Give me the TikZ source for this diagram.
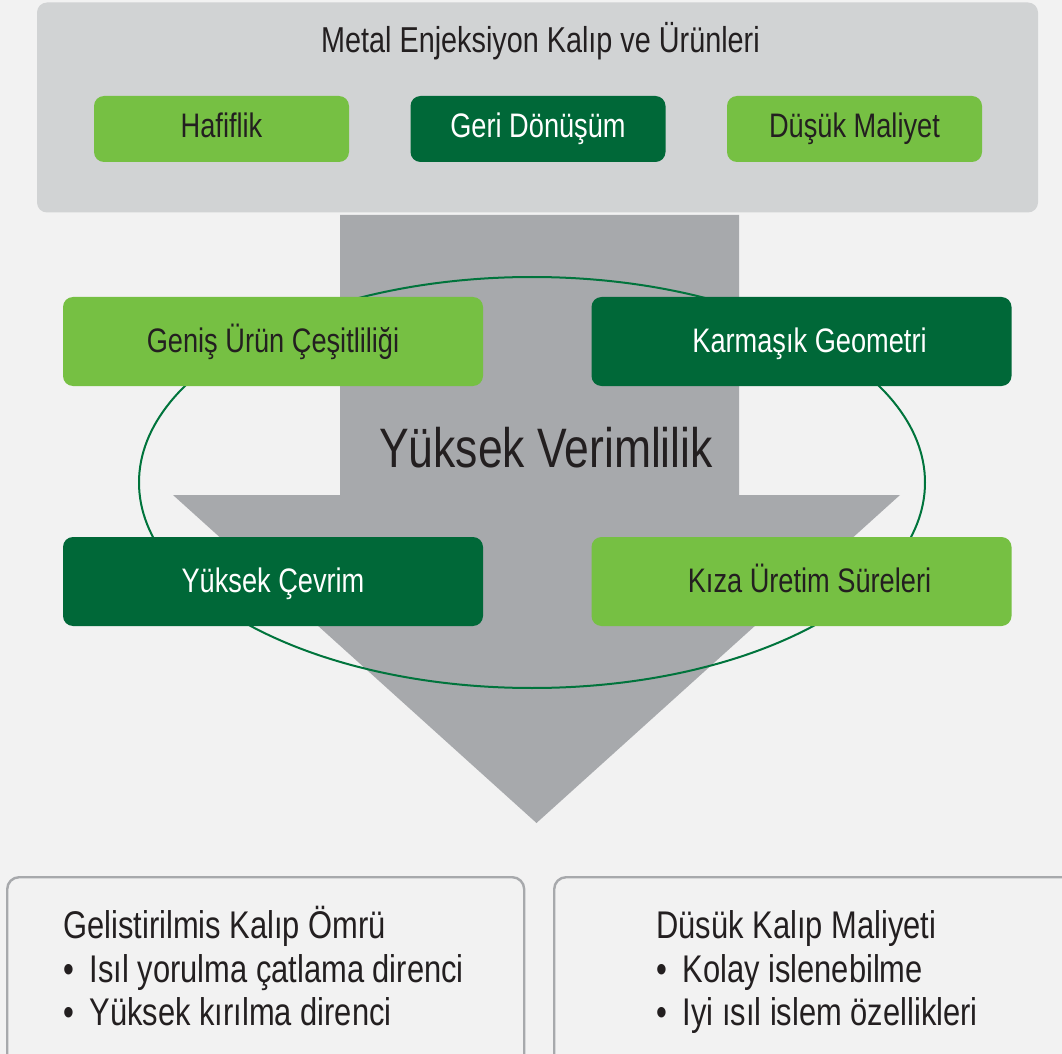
\documentclass[tikz,border=0pt]{standalone}
\usepackage{fontspec}
\setmainfont[FakeStretch=0.8]{Liberation Sans}
\usepackage{xcolor}

\definecolor{bggray}{HTML}{F2F2F2}
\definecolor{panelgray}{HTML}{D1D3D4}
\definecolor{arrowgray}{HTML}{A7A9AC}
\definecolor{leafgreen}{HTML}{76C043}
\definecolor{forestgreen}{HTML}{006838}
\definecolor{ringgreen}{HTML}{00743C}
\definecolor{inkdark}{HTML}{231F20}

\newcommand{\dotitem}{•\hspace{0.4em}}

\begin{document}
\begin{tikzpicture}[x=0.5pt, y=-0.5pt,
  box/.style={rounded corners=5pt, minimum width=127.5pt, minimum height=33pt,
    inner sep=0pt, text height=12pt, text depth=3pt, font=\fontsize{17}{20}\selectfont},
  widebox/.style={box, minimum width=210pt, minimum height=44.5pt, text depth=1pt},
  lightbox/.style={fill=leafgreen, text=inkdark},
  darkbox/.style={fill=forestgreen, text=white},
  infobox/.style={draw=arrowgray, line width=1.2pt, rounded corners=6pt, fill=bggray,
    minimum height=100pt, anchor=north west},
  itemtext/.style={anchor=base west, inner sep=0pt, text=inkdark,
    font=\fontsize{19.3}{22}\selectfont}]

\fill[bggray] (0,0) rectangle (1062,1054);
\useasboundingbox (0,0) rectangle (1062,1054);
\clip (0,0) rectangle (1062,1054);

% top panel
\node[fill=panelgray, rounded corners=5pt, minimum width=500.5pt, minimum height=105pt] (panel) at (537.5,107.5) {};
\node[anchor=base, text=inkdark, font=\fontsize{18}{21}\selectfont] (title) at (540.5,53) {Metal Enjeksiyon Kalıp ve Ürünleri};

\node[box, lightbox] (h1) at (221.5,129) {Hafiflik};
\node[box, darkbox] (h2) at (538,129) {Geri Dönüşüm};
\node[box, lightbox] (h3) at (854.5,129) {Düşük Maliyet};

% big arrow and ring
\fill[arrowgray] (340,215) -- (739,215) -- (739,495) -- (900,495) -- (536.5,823)
  -- (173,495) -- (340,495) -- cycle;
\draw[ringgreen, line width=1pt] (532,482.5) ellipse [x radius=196.5pt, y radius=102.75pt];

\node[widebox, lightbox] (m1) at (273,341.5) {Geniş Ürün Çeşitliliği};
\node[widebox, darkbox] (m2) at (801.5,341.5) {\hspace{8pt}Karmaşık Geometri};
\node[widebox, darkbox] (m3) at (273,581.5) {Yüksek Çevrim};
\node[widebox, lightbox] (m4) at (801.5,581.5) {\hspace{8pt}Kıza Üretim Süreleri};

\node[anchor=base, inner sep=0pt, text=inkdark, font=\fontsize{27.8}{31}\selectfont] (eff) at (546,467) {Yüksek Verimlilik};

% bottom cards
\node[infobox, minimum width=258.5pt] (b1) at (6,876) {};
\node[infobox, minimum width=262pt] (b2) at (553,876) {};

\node[itemtext] (g0) at (63,938) {Gelistirilmis Kalıp Ömrü};
\node[itemtext] (g1) at (63,982) {\dotitem Isıl yorulma çatlama direnci};
\node[itemtext] (g2) at (63,1025) {\dotitem Yüksek kırılma direnci};

\node[itemtext] (d0) at (656,938) {Düsük Kalıp Maliyeti};
\node[itemtext] (d1) at (656,982) {\dotitem Kolay islenebilme};
\node[itemtext] (d2) at (656,1025) {\dotitem Iyi ısıl islem özellikleri};

\end{tikzpicture}
\end{document}
